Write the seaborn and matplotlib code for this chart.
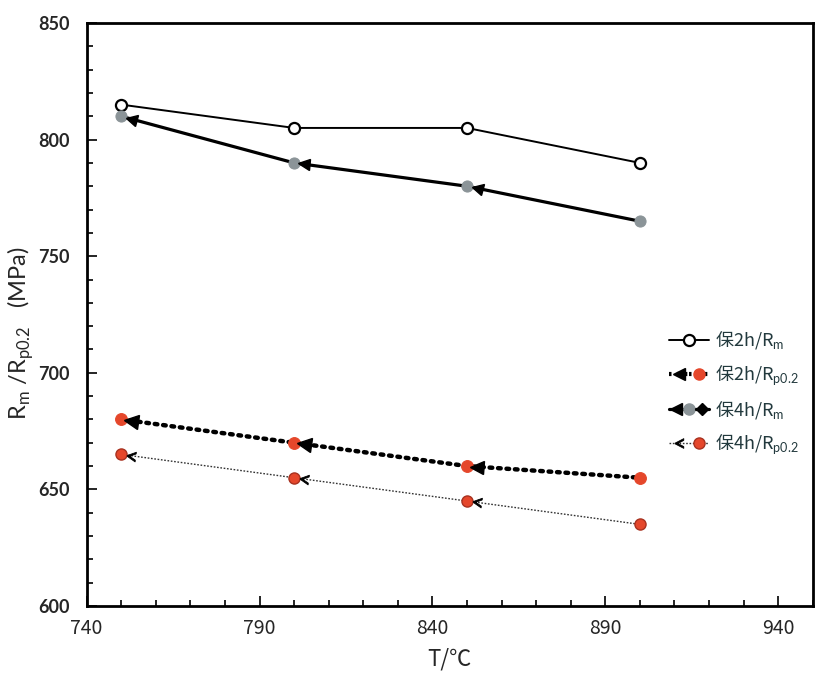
import numpy as np
import seaborn as sns
import matplotlib
matplotlib.use("Agg")
import matplotlib.pyplot as plt
import matplotlib.transforms as mtransforms
from matplotlib.lines import Line2D
from matplotlib.markers import MarkerStyle
from matplotlib.legend_handler import HandlerTuple
from matplotlib.ticker import FixedLocator, MultipleLocator

# data
temps = [750, 800, 850, 900]
rm_2h = [815, 805, 805, 790]
rp_2h = [680, 670, 660, 655]
rm_4h = [810, 790, 780, 765]
rp_4h = [665, 655, 645, 635]
labels = ["保2h/R$_\\mathrm{m}$", "保2h/R$_\\mathrm{p0.2}$",
          "保4h/R$_\\mathrm{m}$", "保4h/R$_\\mathrm{p0.2}$"]
x_ticks = [740, 790, 840, 890, 940]

red = "#e5472b"
grey = "#8b9498"

sns.set_theme(style="white")
plt.rcParams["font.family"] = ["Noto Sans CJK SC", "DejaVu Sans"]
plt.rcParams["mathtext.fontset"] = "custom"
plt.rcParams["mathtext.rm"] = "Lato"

fig = plt.figure(figsize=(8.27, 6.97), dpi=100)
ax = fig.add_axes([0.1048, 0.1306, 0.878, 0.8364])
ax.set_xlim(740, 950)
ax.set_ylim(600, 850)

# lines + round markers
sns.lineplot(x=temps, y=rm_2h, ax=ax, color="black", lw=1.4, marker="o",
             markersize=8, markerfacecolor="white", markeredgecolor="black",
             markeredgewidth=1.6, sort=False, errorbar=None)
sns.lineplot(x=temps, y=rp_2h, ax=ax, color="black", lw=3.2, ls=(0, (0.6, 1.3)),
             dash_capstyle="round", marker="o", markersize=8.5,
             markerfacecolor=red, markeredgecolor=red, sort=False, errorbar=None)
sns.lineplot(x=temps, y=rm_4h, ax=ax, color="black", lw=2.3, marker="o",
             markersize=8, markerfacecolor=grey, markeredgecolor=grey,
             sort=False, errorbar=None)
sns.lineplot(x=temps, y=rp_4h, ax=ax, color="#333333", lw=1.0, ls=(0, (1.2, 1.2)),
             marker="o", markersize=8, markerfacecolor=red,
             markeredgecolor="#a83220", markeredgewidth=1.0,
             sort=False, errorbar=None)


# arrow heads just after each point, pointing back along the segment
def add_heads(vals, marker, size, fc, ec, mew=1.0):
    pts = ax.transData.transform(np.column_stack([temps, vals]))
    for i in range(len(vals) - 1):
        dx, dy = pts[i + 1] - pts[i]
        ang = np.degrees(np.arctan2(dy, dx))
        off = 7.0
        tr = mtransforms.offset_copy(ax.transData, fig=fig,
                                     x=off * np.cos(np.radians(ang)),
                                     y=off * np.sin(np.radians(ang)),
                                     units="points")
        ms = MarkerStyle(marker, transform=mtransforms.Affine2D().rotate_deg(ang))
        ax.plot([temps[i]], [vals[i]], ls="none", marker=ms, markersize=size,
                markerfacecolor=fc, markeredgecolor=ec, markeredgewidth=mew,
                transform=tr, zorder=4)


add_heads(rp_2h, "<", 10, "black", "black")
add_heads(rm_4h, "<", 8, "black", "black")
add_heads(rp_4h, "$<$", 7, "black", "black", 0.6)

# axes styling
ax.xaxis.set_major_locator(FixedLocator(x_ticks))
ax.xaxis.set_minor_locator(MultipleLocator(10))
ax.yaxis.set_major_locator(MultipleLocator(50))
ax.yaxis.set_minor_locator(MultipleLocator(10))
ax.tick_params(which="both", direction="in", top=False, right=False,
               bottom=True, left=True, color="black", width=1.2)
ax.tick_params(which="major", length=7)
ax.tick_params(which="minor", length=4)
ax.tick_params(axis="x", pad=9, labelsize=14)
ax.tick_params(axis="y", pad=12, labelsize=13)
for lab in ax.get_yticklabels():
    lab.set_fontfamily("Lato")
    lab.set_fontweight("bold")
for s in ax.spines.values():
    s.set_color("black")
    s.set_linewidth(2)
ax.grid(False)

ax.set_xlabel("T/℃", fontsize=16, labelpad=6)
ax.set_ylabel("R$_\\mathrm{m}$ /R$_\\mathrm{p0.2}$   (MPa)", fontsize=17,
              family="Lato")
ax.yaxis.set_label_coords(-0.07, 0.468)

# legend
h1 = Line2D([], [], color="black", lw=1.4, marker="o", ms=8, mfc="white",
            mec="black", mew=1.6)
h2a = Line2D([], [], color="black", lw=3, ls=(0, (0.6, 1.3)), marker="<",
             ms=9, mfc="black", mec="black")
h2b = Line2D([], [], color="black", lw=3, ls=(0, (0.6, 1.3)), marker="o",
             ms=8, mfc=red, mec=red)
h3a = Line2D([], [], color="black", lw=2.3, marker="<", ms=8, mfc="black", mec="black")
h3b = Line2D([], [], color="black", lw=2.3, marker="o", ms=8, mfc=grey, mec=grey)
h3c = Line2D([], [], color="black", lw=2.3, marker="D", ms=6, mfc="black", mec="black")
h4a = Line2D([], [], color="#333333", lw=1, ls=(0, (1.2, 1.2)), marker="$<$",
             ms=7, mfc="black", mec="black", mew=0.6)
h4b = Line2D([], [], color="#333333", lw=1, ls=(0, (1.2, 1.2)), marker="o",
             ms=8, mfc=red, mec="#a83220")
ax.legend([h1, (h2a, h2b), (h3a, h3b, h3c), (h4a, h4b)], labels,
          handler_map={tuple: HandlerTuple(ndivide=None, pad=0)},
          loc="upper left", bbox_to_anchor=(0.79, 0.49), frameon=False,
          fontsize=13, labelcolor="#22393d", handlelength=2.2,
          handletextpad=0.35, labelspacing=0.65, borderpad=0)

fig.savefig("out.png", dpi=100)
